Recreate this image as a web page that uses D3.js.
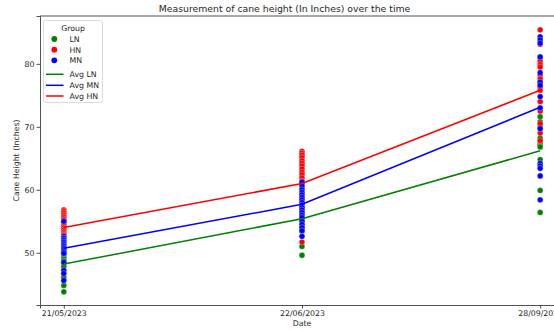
<!DOCTYPE html>
<html>
<head>
<meta charset="utf-8">
<script src="https://cdn.jsdelivr.net/npm/d3@7"></script>
<style>
  body { margin: 0; background: #fff; }
  svg { display: block; font-family: "DejaVu Sans", sans-serif; }
</style>
</head>
<body>
<div class="chart-container"></div>
<script>
// dates on the x axis (treated as categories)
const dates = ['21/05/2023', '22/06/2023', '28/09/2023'];

// cane heights per group, one list per date
const lnHeights = [
  [50.0, 49.6, 49.3, 49.0, 48.7, 48.3, 47.8, 46.1, 44.8, 43.8],
  [57.2, 56.7, 56.2, 55.8, 55.3, 54.8, 54.3, 53.8, 53.4, 51.0, 49.6],
  [71.6, 70.8, 70.0, 68.2, 67.4, 67.0, 66.8, 64.8, 59.9, 56.4]
];
const hnHeights = [
  [56.8, 56.6, 56.3, 56.0, 55.7, 55.4, 55.1, 54.8, 54.5, 54.2, 53.9, 53.6, 53.3, 53.0, 52.8],
  [66.1, 65.8, 65.5, 65.1, 64.6, 64.2, 63.8, 63.3, 62.8, 62.4, 61.9, 61.4, 61.0, 60.2, 58.9, 56.5, 51.7],
  [85.4, 83.1, 80.9, 80.4, 79.9, 79.5, 78.2, 77.6, 77.0, 76.3, 75.8, 74.0, 72.5, 70.5, 69.0, 67.8]
];
const mnHeights = [
  [55.0, 52.6, 52.3, 52.0, 51.7, 51.4, 51.1, 50.8, 50.5, 50.2, 49.9, 48.5, 47.2, 46.7, 45.6],
  [61.2, 60.6, 60.0, 59.6, 59.2, 58.8, 58.4, 58.0, 57.6, 57.2, 56.8, 56.4, 56.0, 55.6, 55.0, 54.5, 54.0, 53.5, 52.6],
  [84.3, 83.8, 83.3, 81.1, 78.6, 77.1, 76.6, 74.8, 73.0, 69.7, 64.2, 63.8, 63.4, 62.2, 58.4]
];

// group averages per date
const avgLN = [48.2, 55.4, 66.2];
const avgMN = [50.7, 57.7, 73.1];
const avgHN = [54.0, 61.0, 75.8];

const yTicks = [50, 60, 70, 80];

const width = 554;
const height = 331;
const margin = { top: 16, right: -10, bottom: 26, left: 40 };

const svg = d3.select('.chart-container')
  .append('svg')
  .attr('width', width)
  .attr('height', height);

const x = d3.scalePoint()
  .domain(dates)
  .range([margin.left, width - margin.right])
  .padding(0.1);

const y = d3.scaleLinear()
  .domain([41.7, 87.6])
  .range([height - margin.bottom, margin.top]);

const groups = [
  { name: 'LN', values: lnHeights, color: '#008000' },
  { name: 'HN', values: hnHeights, color: '#ff0000' },
  { name: 'MN', values: mnHeights, color: '#0000ff' }
];
const avgs = [
  { name: 'Avg LN', values: avgLN, color: '#008000' },
  { name: 'Avg MN', values: avgMN, color: '#0000ff' },
  { name: 'Avg HN', values: avgHN, color: '#ff0000' }
];

const plot = svg.append('g');

// scatter points
groups.forEach(g => {
  const pts = [];
  g.values.forEach((list, i) => list.forEach(v => pts.push({ date: dates[i], v })));
  plot.append('g')
    .selectAll('circle')
    .data(pts)
    .enter()
    .append('circle')
    .attr('cx', d => x(d.date))
    .attr('cy', d => y(d.v))
    .attr('r', 2.9)
    .attr('fill', g.color)
    .attr('stroke', '#fff')
    .attr('stroke-width', 0.3);
});

// average lines
const line = d3.line()
  .x((d, i) => x(dates[i]))
  .y(d => y(d));

avgs.forEach(a => {
  plot.append('path')
    .datum(a.values)
    .attr('fill', 'none')
    .attr('stroke', a.color)
    .attr('stroke-width', 1.5)
    .attr('d', line);
});

// axes
const xAxis = svg.append('g')
  .attr('transform', `translate(0, ${height - margin.bottom})`)
  .call(d3.axisBottom(x).tickSizeOuter(0).tickSize(3.5).tickPadding(2));

const yAxis = svg.append('g')
  .attr('transform', `translate(${margin.left}, 0)`)
  .call(d3.axisLeft(y).tickValues(yTicks).tickSizeOuter(0).tickSize(3.5).tickPadding(2));

[xAxis, yAxis].forEach(ax => {
  ax.selectAll('text').attr('font-size', 7.8).attr('fill', '#262626').attr('font-family', 'DejaVu Sans');
  ax.selectAll('line').attr('stroke', '#262626').attr('stroke-width', 0.8);
  ax.select('.domain').attr('stroke', '#262626').attr('stroke-width', 0.8);
});

// top spine
svg.append('line')
  .attr('x1', margin.left).attr('x2', width)
  .attr('y1', margin.top).attr('y2', margin.top)
  .attr('stroke', '#262626').attr('stroke-width', 0.8);

// title and axis labels
svg.append('text')
  .attr('x', 284.5).attr('y', 12)
  .attr('text-anchor', 'middle')
  .attr('font-size', 9.3)
  .attr('fill', '#262626')
  .text('Measurement of cane height (In Inches) over the time');

svg.append('text')
  .attr('x', x(dates[1])).attr('y', 326)
  .attr('text-anchor', 'middle')
  .attr('font-size', 7.8)
  .attr('fill', '#262626')
  .text('Date');

svg.append('text')
  .attr('transform', `translate(19, ${(margin.top + height - margin.bottom) / 2}) rotate(-90)`)
  .attr('text-anchor', 'middle')
  .attr('font-size', 7.8)
  .attr('fill', '#262626')
  .text('Cane Height (Inches)');

// legend
const legend = svg.append('g');
legend.append('rect')
  .attr('x', 43.5).attr('y', 20.5)
  .attr('width', 59).attr('height', 82)
  .attr('rx', 2)
  .attr('fill', 'rgba(255,255,255,0.8)')
  .attr('stroke', '#d0d0d0')
  .attr('stroke-width', 0.8);

legend.append('text')
  .attr('x', 73).attr('y', 30.5)
  .attr('text-anchor', 'middle')
  .attr('font-size', 7.8)
  .attr('fill', '#262626')
  .text('Group');

const rowY = [39, 49.7, 60.3, 74.3, 85.3, 96];

groups.forEach((g, i) => {
  legend.append('circle')
    .attr('cx', 54.3).attr('cy', rowY[i])
    .attr('r', 2.9)
    .attr('fill', g.color);
  legend.append('text')
    .attr('x', 69.5).attr('y', rowY[i] + 2.8)
    .attr('font-size', 7.8)
    .attr('fill', '#262626')
    .text(g.name);
});

avgs.forEach((a, i) => {
  const yy = rowY[i + 3];
  legend.append('line')
    .attr('x1', 46).attr('x2', 63.5)
    .attr('y1', yy).attr('y2', yy)
    .attr('stroke', a.color)
    .attr('stroke-width', 1.5);
  legend.append('text')
    .attr('x', 69.5).attr('y', yy + 2.8)
    .attr('font-size', 7.8)
    .attr('fill', '#262626')
    .text(a.name);
});
</script>
</body>
</html>
